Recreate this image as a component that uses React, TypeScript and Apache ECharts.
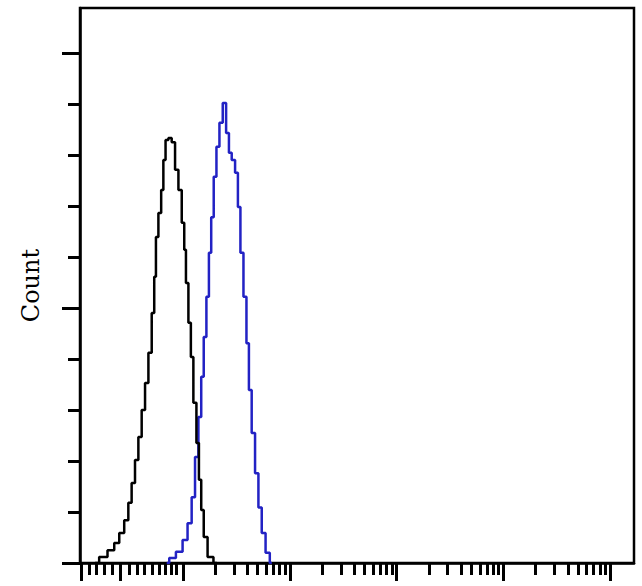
import React, { useEffect, useRef } from "react";
import * as echarts from "echarts";

// x values are in log10 decade units of the fluorescence axis
const controlX = [0.176, 0.253, 0.332, 0.379, 0.426, 0.472, 0.503, 0.534, 0.566, 0.597, 0.628, 0.66, 0.691, 0.722, 0.738, 0.754, 0.784, 0.806, 0.825, 0.847, 0.878, 0.909, 0.941, 0.972, 1.003, 1.019, 1.035, 1.065, 1.081, 1.112, 1.138, 1.159, 1.181, 1.206, 1.253, 1.316];
const controlY = [0, 1.2, 2.5, 3.9, 5.9, 8.4, 11.8, 15.7, 20.2, 24.7, 30.0, 35.3, 41.2, 49.0, 56.1, 63.9, 68.6, 73.1, 79.0, 82.9, 83.3, 82.5, 77.1, 73.1, 66.7, 61.4, 54.9, 47.1, 40.4, 31.4, 23.5, 16.3, 10.4, 5.1, 1.2, 0];

const sampleX = [0.847, 0.894, 0.972, 1.019, 1.065, 1.096, 1.128, 1.159, 1.181, 1.206, 1.231, 1.253, 1.274, 1.3, 1.325, 1.356, 1.387, 1.419, 1.44, 1.471, 1.503, 1.524, 1.55, 1.581, 1.606, 1.627, 1.658, 1.69, 1.721, 1.752, 1.793, 1.831];
const sampleY = [0, 1.0, 2.2, 4.5, 7.8, 12.9, 20.8, 28.6, 36.5, 44.3, 52.2, 60.8, 67.8, 75.7, 81.6, 86.3, 90.2, 84.3, 80.4, 79.0, 76.5, 69.8, 60.8, 52.2, 43.1, 33.9, 25.5, 17.6, 10.9, 5.9, 2.0, 0];

const xMin = 0.035;
const xMax = 5.222;
const xMajorTicks = [0.044, 0.41, 1, 2, 3, 4, 5];
const xLinearMinor = [0.119, 0.185, 0.26, 0.335, 0.494, 0.569, 0.635, 0.71, 0.775, 0.831, 0.887, 0.934];
const decades = [1, 2, 3, 4];
const multipliers = [2, 3, 4, 5, 6, 7, 8, 9];
const xMinorTicks = xLinearMinor.concat(
  ...decades.map((d) => multipliers.map((m) => +(d + Math.log10(m)).toFixed(4)))
);

const yMin = 0;
const yMax = 108.8;
const yMinorTicks = [10, 20, 30, 40, 60, 70, 80, 90];
const yMajorTicks = [0, 50, 100];

export default function App() {
  const ref = useRef<HTMLDivElement>(null);
  useEffect(() => {
    if (!ref.current) return;
    const chart = echarts.init(ref.current, null, { renderer: "svg" });
    const tickStyle = { color: "#000", width: 3 };
    const xAxisBase = {
      type: "value",
      min: xMin,
      max: xMax,
      position: "bottom",
      splitLine: { show: false },
      axisLabel: { show: false },
    };
    const yAxisBase = {
      type: "value",
      min: yMin,
      max: yMax,
      position: "left",
      splitLine: { show: false },
      axisLabel: { show: false },
    };
    chart.setOption({
      animation: false,
      backgroundColor: "#fff",
      grid: {
        left: 80,
        right: 8,
        top: 8,
        bottom: 23,
        show: true,
        borderColor: "#000",
        borderWidth: 2.5,
        backgroundColor: "transparent",
      },
      xAxis: [
        {
          ...xAxisBase,
          axisLine: { show: true, lineStyle: { color: "#000", width: 2.5 } },
          axisTick: { show: true, length: 12, lineStyle: tickStyle, customValues: xMinorTicks },
        },
        {
          ...xAxisBase,
          axisLine: { show: false },
          axisTick: { show: true, length: 18, lineStyle: tickStyle, customValues: xMajorTicks },
        },
      ],
      yAxis: [
        {
          ...yAxisBase,
          name: "Count",
          nameLocation: "middle",
          nameGap: 37,
          nameTextStyle: { fontFamily: "DejaVu Serif", fontSize: 24, color: "#000" },
          axisLine: { show: true, lineStyle: { color: "#000", width: 2.5 } },
          axisTick: { show: true, length: 12, lineStyle: tickStyle, customValues: yMinorTicks },
        },
        {
          ...yAxisBase,
          axisLine: { show: false },
          axisTick: { show: true, length: 18, lineStyle: tickStyle, customValues: yMajorTicks },
        },
      ],
      series: [
        {
          type: "line",
          name: "Control",
          data: controlX.map((x, i) => [x, controlY[i]]),
          step: "middle",
          showSymbol: false,
          lineStyle: { color: "#000", width: 2.5 },
          z: 3,
        },
        {
          type: "line",
          name: "Sample",
          data: sampleX.map((x, i) => [x, sampleY[i]]),
          step: "middle",
          showSymbol: false,
          lineStyle: { color: "#2222c4", width: 2.5 },
          z: 2,
        },
      ],
    });
    return () => chart.dispose();
  }, []);
  return (
    <div
      ref={ref}
      style={{ position: "fixed", left: 0, top: 0, width: 642, height: 586, background: "#fff" }}
    />
  );
}
